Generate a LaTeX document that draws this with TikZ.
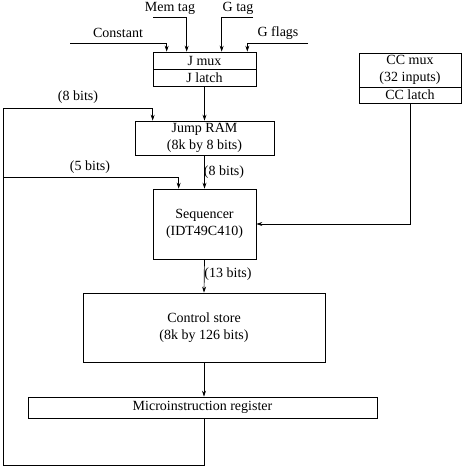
\documentclass[tikz,border=0pt]{standalone}
\usepackage{fontspec}
\setmainfont{Liberation Serif}
\usetikzlibrary{arrows.meta,calc}
\begin{document}
\begin{tikzpicture}[x=1pt,y=-1pt,
  every node/.style={font=\fontsize{14}{17.5}\selectfont},
  blk/.style={draw,line width=0.7pt,inner sep=0pt,align=center},
  lbl/.style={inner sep=0pt},
  wire/.style={line width=0.7pt},
  arr/.style={wire,-{Stealth[length=6pt,width=4pt]}}]
\useasboundingbox (0,0) rectangle (470,472);
% blocks
\node[blk,minimum width=103pt,minimum height=17pt] (jmux) at (204.5,60.5) {J mux};
\node[blk,minimum width=103pt,minimum height=17pt] (jlatch) at (204.5,77.5) {J latch};
\node[blk,minimum width=139pt,minimum height=34pt] (jram) at (204.5,138) {Jump RAM\\(8k by 8 bits)};
\node[blk,minimum width=103pt,minimum height=70pt] (seq) at (204.5,224) {Sequencer\\(IDT49C410)};
\node[blk,minimum width=102pt,minimum height=34pt] (ccmux) at (410,70) {CC mux\\(32 inputs)};
\node[blk,minimum width=102pt,minimum height=16pt] (cclatch) at (410,95) {CC latch};
\node[blk,minimum width=242pt,minimum height=69pt] (cs) at (204,327.5) {Control store\\(8k by 126 bits)};
\node[blk,minimum width=349pt,minimum height=21pt] (mir) at (202.5,407.5) {Microinstruction register};
% labels
\node[lbl] (lconst) at (118,33) {Constant};
\node[lbl] (lmem) at (170,8) {Mem tag};
\node[lbl] (lgtag) at (238,8) {G tag};
\node[lbl] (lgfl) at (278,33) {G flags};
\node[lbl] (l8a) at (78,97) {(8 bits)};
\node[lbl] (l5) at (90,167) {(5 bits)};
\node[lbl] (l8b) at (224,172) {(8 bits)};
\node[lbl] (l13) at (228,274) {(13 bits)};
% free ends
\coordinate (cin) at (70,43);
\coordinate (min) at (153,17);
\coordinate (gin) at (253,17);
\coordinate (fin) at (308,43);
\coordinate (fbl) at (3,465);
\coordinate (fbt) at (3,108);
\coordinate (fbm) at (3,177);
% inputs to J mux
\draw[arr] (cin) -| ([xshift=14pt]jmux.north west);
\draw[arr] (min) -| ([xshift=34pt]jmux.north west);
\draw[arr] (gin) -| ([xshift=69pt]jmux.north west);
\draw[arr] (fin) -| ([xshift=-9pt]jmux.north east);
% main column
\draw[arr] (jlatch.south) -- (jram.north);
\draw[arr] (jram.south) -- (seq.north);
\draw[arr] (seq.south) -- (cs.north);
\draw[arr] (cs.south) -- (cs.south |- mir.north);
% CC
\draw[arr] (cclatch.south) |- (seq.east);
% feedback
\draw[arr] (cs.south |- mir.south) |- (fbl) -- (fbt) -| ([xshift=18pt]jram.north west);
\draw[arr] (fbm) -| ([xshift=26pt]seq.north west);
\end{tikzpicture}
\end{document}
